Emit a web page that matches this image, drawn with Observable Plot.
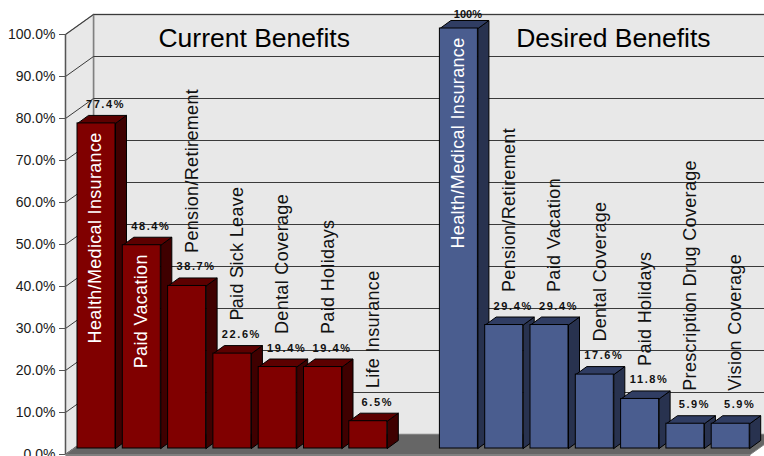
<!DOCTYPE html>
<html><head><meta charset="utf-8">
<style>
html,body{margin:0;padding:0;background:#fff;overflow:hidden}
svg{display:block;font-family:"Liberation Sans",Arial,sans-serif}
g[font-weight="bold"] text{letter-spacing:1.6px}
text[transform*="rotate"]{letter-spacing:.33px}
</style>
<script src="https://cdn.jsdelivr.net/npm/d3@7"></script>
<script src="https://cdn.jsdelivr.net/npm/@observablehq/plot@0.6"></script>
</head><body><div id="chart"></div>
<script>
const currentCategories=["Health/Medical Insurance","Paid Vacation","Pension/Retirement","Paid Sick Leave","Dental Coverage","Paid Holidays","Life Insurance"];
const currentValues=[77.4,48.4,38.7,22.6,19.4,19.4,6.5];
const currentLabels=["77.4%","48.4%","38.7%","22.6%","19.4%","19.4%","6.5%"];
const desiredCategories=["Health/Medical Insurance","Pension/Retirement","Paid Vacation","Dental Coverage","Paid Holidays","Prescription Drug Coverage","Vision Coverage"];
const desiredValues=[100,29.4,29.4,17.6,11.8,5.9,5.9];
const desiredLabels=["100%","29.4%","29.4%","17.6%","11.8%","5.9%","5.9%"];
const panelTitles=["Current Benefits","Desired Benefits"];
const tickValues=[0,10,20,30,40,50,60,70,80,90,100];

// layout in data units: x = bar slots, y = percent
const W=0.839, DX=0.243, DY=1.905;
const axisX=-0.265, axisY=-1.43, backX=0.353, backY=3.33, floorEndX=15.47;
const wallTop=100;
const RED={front:"#800000",side:"#3f0000",top:"#5c0000"};
const BLUE={front:"#4a5d8f",side:"#28324f",top:"#303d63"};

const bars=[
  ...currentCategories.map((name,i)=>({name,value:currentValues[i],label:currentLabels[i],slot:i,c:RED,inside:i<2})),
  ...desiredCategories.map((name,i)=>({name,value:desiredValues[i],label:desiredLabels[i],slot:i+8,c:BLUE,inside:i===0}))
];
const ring=(id,pts)=>[...pts,pts[0]].map(([x,y])=>({id,x,y}));
const poly=(rings,o)=>Plot.line(rings.flat(),{x:"x",y:"y",z:"id",curve:"linear",...o});
const seg=(rows,o)=>Plot.line(rows.flat(),{x:"x",y:"y",z:"id",curve:"linear",...o});

const backWall=ring("back",[[backX,backY],[floorEndX+1,backY],[floorEndX+1,wallTop+backY],[backX,wallTop+backY]]);
const leftWall=ring("left",[[axisX,axisY],[backX,backY],[backX,wallTop+backY],[axisX,wallTop+axisY]]);
const floor=ring("floor",[[axisX,axisY],[backX,backY],[floorEndX,backY],[floorEndX-0.618,axisY]]);
const floorLip=ring("lip",[[axisX,axisY],[floorEndX-0.618,axisY],[floorEndX-0.618,axisY-1],[axisX,axisY-1]]);
const grid=tickValues.map(t=>[{id:t,x:axisX,y:t+axisY},{id:t,x:backX,y:t+backY},{id:t,x:floorEndX+1,y:t+backY}]);

const sideRing=b=>ring("s"+b.slot,[[b.slot+W,0],[b.slot+W+DX,DY],[b.slot+W+DX,b.value+DY],[b.slot+W,b.value]]);
const topRing=b=>ring("t"+b.slot,[[b.slot,b.value],[b.slot+DX,b.value+DY],[b.slot+W+DX,b.value+DY],[b.slot+W,b.value]]);

const marks=[
  poly([backWall],{fill:"#e8e8e8",stroke:"#808080",strokeWidth:1.5}),
  poly([leftWall],{fill:"#e8e8e8",stroke:"#808080",strokeWidth:1.5}),
  seg(grid,{stroke:"#3a3a3a",strokeWidth:1}),
  poly([floorLip],{fill:"#808080",stroke:"none"}),
  poly([floor],{fill:"#666666",stroke:"#808080",strokeWidth:1}),
  Plot.ruleX([axisX],{y1:axisY,y2:wallTop+axisY,stroke:"#555",strokeWidth:1.2}),
  Plot.axisY(tickValues,{anchor:"left",dy:6,fontSize:14,tickSize:6,tickPadding:4,stroke:"#555",fill:"#1a1a1a",
    tickFormat:d=>d.toFixed(1)+"%",label:null}),
];
for(const c of [RED,BLUE]){
  const bs=bars.filter(b=>b.c===c);
  marks.push(
    poly(bs.map(sideRing),{fill:c.side,stroke:"#000",strokeWidth:1}),
    poly(bs.map(topRing),{fill:c.top,stroke:"#000",strokeWidth:1}),
    Plot.rect(bs,{x1:"slot",x2:b=>b.slot+W,y1:0,y2:"value",fill:c.front,stroke:"#000",strokeWidth:1})
  );
}
marks.push(
  Plot.text(bars.filter(b=>b.inside),{x:b=>b.slot+W/2,y:"value",text:"name",rotate:-90,textAnchor:"end",lineAnchor:"middle",dy:9,dx:-1,fontSize:18,fill:"#fff"}),
  Plot.text(bars.filter(b=>!b.inside),{x:b=>b.slot+W/2,y:"value",text:"name",rotate:-90,textAnchor:"start",lineAnchor:"middle",dy:-33,dx:5,fontSize:18,fill:"#111"}),
  Plot.text(bars.filter(b=>b.value<100),{x:b=>b.slot+W/2,y:"value",text:"label",dx:9,dy:-19,fontSize:11,fontWeight:"bold",fill:"#111"}),
  Plot.text(bars.filter(b=>b.value>=100),{x:b=>b.slot+W/2,y:"value",text:"label",dx:9,dy:-14,fontSize:11,fontWeight:700,fill:"#111"}),
  Plot.text(panelTitles,{x:(d,i)=>[3.9,11.83][i],y:97.7,text:d=>d,fontSize:26.5,fill:"#000"})
);
const chart=Plot.plot({
  width:764,height:456,marginLeft:65,marginTop:0,marginBottom:0,marginRight:0,
  style:{background:"#fff",fontFamily:"'Liberation Sans',Arial,sans-serif",overflow:"hidden"},
  x:{domain:[0,1],range:[77,122.3],axis:null},
  y:{domain:[0,100],range:[448,28]},
  marks
});
document.getElementById("chart").append(chart);
</script></body></html>
